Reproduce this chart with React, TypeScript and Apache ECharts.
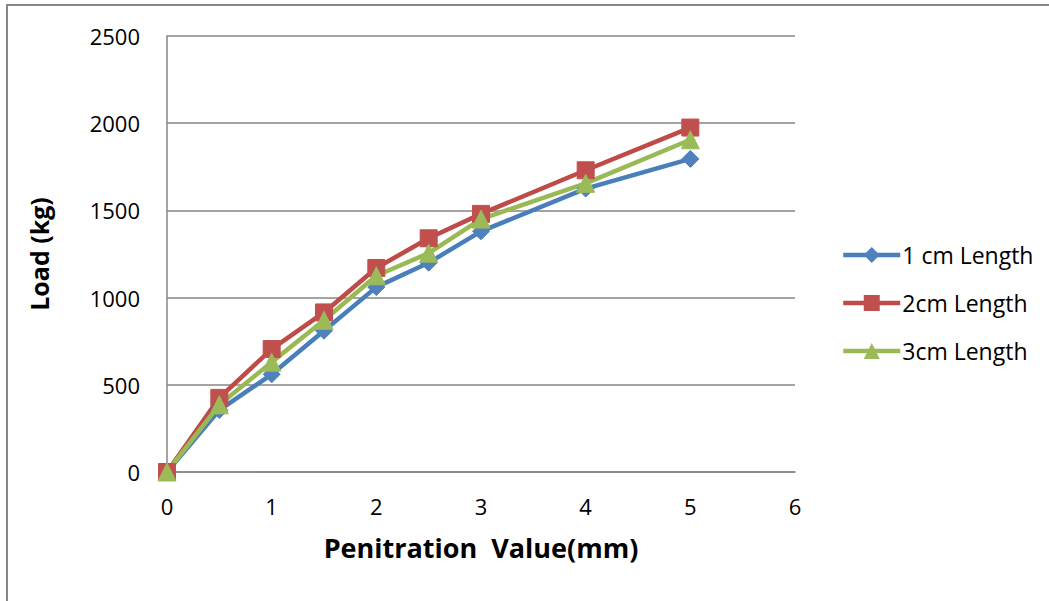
import React, { useEffect, useRef } from "react";
import * as echarts from "echarts";

const xValues = [0, 0.5, 1, 1.5, 2, 2.5, 3, 4, 5];
const series1cm = [0, 355, 560, 810, 1060, 1200, 1380, 1625, 1795];
const series2cm = [0, 425, 705, 915, 1170, 1340, 1480, 1730, 1975];
const series3cm = [0, 385, 630, 870, 1125, 1255, 1450, 1655, 1905];
const seriesNames = ["1 cm Length", "2cm Length", "3cm Length"];
const xTitle = "Penitration  Value(mm)";
const yTitle = "Load (kg)";

const FONT = "'Open Sans', 'Liberation Sans', sans-serif";

export default function App() {
  const ref = useRef<HTMLDivElement>(null);
  useEffect(() => {
    if (!ref.current) return;
    const chart = echarts.init(ref.current, undefined, { renderer: "svg" });
    const pair = (ys: number[]) => xValues.map((x, i) => [x, ys[i]]);
    const mk = (name: string, ys: number[], line: string, fill: string, symbol: string, size: number) => ({
      name,
      type: "line",
      data: pair(ys),
      symbol,
      symbolSize: size,
      lineStyle: { color: line, width: 4.5 },
      itemStyle: { color: fill, borderColor: fill },
      color: line,
      z: 2,
    });
    chart.setOption({
      animation: false,
      backgroundColor: "#ffffff",
      grid: { left: 167, top: 36, width: 628, height: 436, containLabel: false },
      xAxis: {
        type: "value",
        min: 0,
        max: 6,
        interval: 1,
        name: xTitle,
        nameLocation: "middle",
        nameGap: 62,
        nameTextStyle: { fontFamily: FONT, fontSize: 27, fontWeight: "bold", color: "#000" },
        axisLine: { show: true, lineStyle: { color: "#868686", width: 1.5 } },
        axisTick: { show: false },
        splitLine: { show: false },
        axisLabel: { fontFamily: FONT, fontSize: 22, color: "#000", margin: 23 },
      },
      yAxis: {
        type: "value",
        min: 0,
        max: 2500,
        interval: 500,
        name: yTitle,
        nameLocation: "middle",
        nameGap: 116,
        nameTextStyle: { fontFamily: FONT, fontSize: 25, fontWeight: "bold", color: "#000" },
        axisLine: { show: true, lineStyle: { color: "#868686", width: 1.5 } },
        axisTick: { show: false },
        splitLine: { show: true, lineStyle: { color: "#868686", width: 1.5 } },
        axisLabel: {
          fontFamily: FONT,
          fontSize: 22,
          color: "#000",
          margin: 27,
          formatter: (v: number) => String(v),
        },
      },
      legend: {
        orient: "vertical",
        left: 841,
        top: 243,
        padding: 0,
        itemWidth: 57,
        itemHeight: 20,
        itemGap: 24,
        lineStyle: { width: 4.5 },
        textStyle: { fontFamily: FONT, fontSize: 23, color: "#000", lineHeight: 24, padding: [0, 0, 0, -3] },
        data: seriesNames,
      },
      graphic: [
        {
          type: "rect",
          shape: { x: 7, y: 5, width: 1200, height: 800 },
          style: { fill: "none", stroke: "#868686", lineWidth: 2 },
          silent: true,
        },
      ],
      series: [
        mk(seriesNames[0], series1cm, "#4A7EBB", "#4F81BD", "diamond", 17),
        mk(seriesNames[1], series2cm, "#BE4B48", "#C0504D", "rect", 17),
        mk(seriesNames[2], series3cm, "#98B954", "#9BBB59", "triangle", 18),
      ],
    });
    return () => chart.dispose();
  }, []);
  return (
    <div
      ref={ref}
      style={{ position: "fixed", left: 0, top: 0, width: 1049, height: 601, background: "#fff" }}
    />
  );
}
